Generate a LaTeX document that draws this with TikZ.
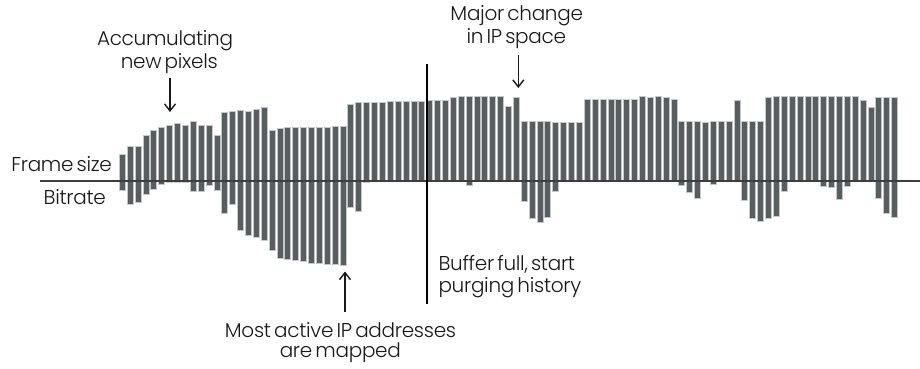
\documentclass[tikz,border=0pt]{standalone}
\usepackage{fontspec}
\setmainfont{Poppins}[UprightFont=* Light, WordSpace=0.6, LetterSpace=-1.5]
\usetikzlibrary{arrows.meta}
\definecolor{barfill}{RGB}{88,94,96}
\definecolor{baredge}{RGB}{196,200,201}
\definecolor{axisgray}{RGB}{60,62,63}
\definecolor{inkdark}{RGB}{25,25,25}
\tikzset{
  barbox/.style={fill=barfill, draw=baredge, line width=0.7pt},
  zeroline/.style={draw=axisgray, line width=1.6pt},
  markerline/.style={draw=black, line width=2pt},
  callout/.style={draw=inkdark, line width=1.4pt, -{Straight Barb[length=7pt,width=11pt,line width=1.4pt]}},
  lbl/.style={inner sep=0pt, text=inkdark, font=\fontsize{20}{23}\selectfont},
}
\begin{document}
\begin{tikzpicture}[x=1pt,y=-1pt]
\useasboundingbox (0,0) rectangle (920,369);

% frame size (top) and bitrate (bottom) per frame
\foreach \t/\b [count=\i from 0] in {
  154.3/190.7, 146/204, 146/202.7, 135.7/194.3, 130.7/189, 127/184.3, 125/182.5, 123.7/182.5,
  125/182.5, 121.7/191, 125/191.7, 125/185, 135.3/190, 112.3/213.3, 111/204, 110.3/230,
  111/235, 109/237.7, 107.7/240, 130.3/250, 128/258, 127.5/259.3, 127.5/260, 127.5/261.7,
  127.5/263, 127.3/263.3, 127/264, 126.5/264.3, 126.5/265.5, 104/207.5, 102.5/211.7, 102.3/182.5,
  102/181.5, 102/181.5, 101.7/181.5, 101.7/181.5, 101.3/181.5, 101.3/181.5, 101/181.5, 100/181,
  100/181, 100/181, 97.3/181, 96/181, 96/185, 96/181, 96/181, 96/181,
  96/181, 106/181, 97.3/181, 121.3/201.7, 121.3/218.5, 121.3/222.5, 121.3/217.3, 122/191,
  122/181, 122/181, 122/181, 99.3/181, 99.3/181, 99.3/181, 99.3/181, 99.3/181,
  99.3/181, 99.3/181, 96/181, 97.3/181, 96/181, 97.3/181, 99.5/181, 121.7/185,
  121.7/192.5, 121.7/198, 122.7/181.5, 121.7/184.2, 121.7/181, 121.7/181, 100/181, 121.7/200,
  121.7/218.3, 121.7/221.7, 97.3/218.3, 96/216.7, 96/191.7, 96/181, 96/181, 96/181,
  96/181, 96/186, 96/187.3, 96/199.3, 96/186, 96/181, 100/181, 107.3/181,
  97.3/198.3, 97.3/213.3, 97.3/217.3}
{
  \path[barbox] ({119.3+7.88*\i},\t) rectangle ({125.3+7.88*\i},\b);
}

% zero line between the two series
\coordinate (axisL) at (40,181);
\coordinate (axisR) at (920,181);
\draw[zeroline] (axisL) -- (axisR);

% buffer-full marker
\coordinate (markTop) at (427.3,64);
\coordinate (markBot) at (427.3,304);
\draw[markerline] (markTop) -- (markBot);

% series labels
\node[lbl, anchor=base east] (frameLbl) at (112,171) {Frame size};
\node[lbl, anchor=base east] (rateLbl) at (106,204.3) {Bitrate};

% annotations
\node[lbl, anchor=base] (accA) at (165,45.3) {Accumulating};
\node[lbl, anchor=base] (accB) at (169.3,68.3) {new pixels};
\coordinate (accTail) at (170,78);
\coordinate (accTip) at (170,112);
\draw[callout] (accTail) -- (accTip);

\node[lbl, anchor=base] (ipA) at (516.7,20.7) {Major change};
\node[lbl, anchor=base] (ipB) at (516.3,44) {in IP space};
\coordinate (ipTail) at (518.3,55);
\coordinate (ipTip) at (518.3,88);
\draw[callout] (ipTail) -- (ipTip);

\node[lbl, anchor=base west] (bufA) at (438.3,270.7) {Buffer full, start};
\node[lbl, anchor=base west] (bufB) at (438.3,292.5) {purging history};

\node[lbl, anchor=base] (mapA) at (340.5,337) {Most active IP addresses};
\node[lbl, anchor=base] (mapB) at (340.3,357.3) {are mapped};
\coordinate (mapTail) at (345,311.7);
\coordinate (mapTip) at (345,271.5);
\draw[callout] (mapTail) -- (mapTip);
\end{tikzpicture}
\end{document}
